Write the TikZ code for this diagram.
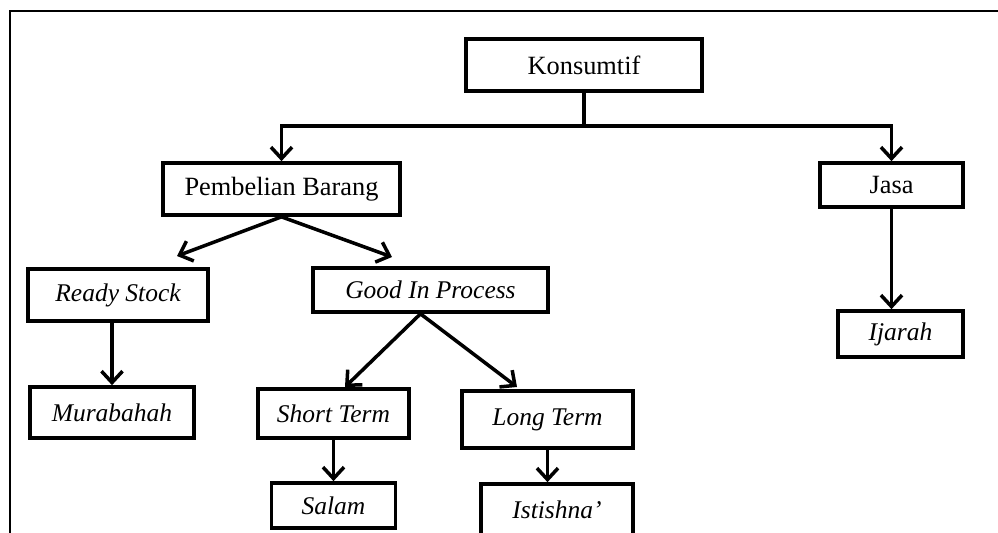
\documentclass[tikz,border=0pt]{standalone}
\usepackage{fontspec}
\setmainfont{Liberation Serif}
\usepackage{tikz}
\usetikzlibrary{arrows.meta}
\tikzstyle{plainbox} = [rectangle, draw, line width=2.1pt, minimum height=1.04cm,
  font=\fontsize{15}{17}\selectfont]
\tikzstyle{itbox} = [plainbox, font=\fontsize{14.5}{17}\selectfont\itshape]
\tikzstyle{line} = [draw, -{Straight Barb[length=6.5pt,width=12pt]}, line width=2pt]
\tikzstyle{joint} = [draw, line width=2pt]
\tikzstyle{frame} = [draw, line width=1pt]

\begin{document}
\begin{tikzpicture}[node distance=2cm]
    \clip (0,0) rectangle (19.96,-10.66);
    \path[frame] (0.2,-10.66) |- (19.96,-0.22);

    \node[plainbox, minimum width=4.72cm] (konsumtif) at (11.68,-1.30) {Konsumtif};
    \node[plainbox, minimum width=4.74cm, below of=konsumtif, node distance=2.48cm, xshift=-6.05cm] (pembelian) {Pembelian Barang};
    \node[plainbox, minimum width=2.86cm, minimum height=0.88cm, below of=konsumtif, node distance=2.40cm, xshift=6.15cm] (jasa) {Jasa};
    \node[itbox, minimum width=2.50cm, minimum height=0.92cm, below of=jasa, node distance=2.98cm, xshift=0.18cm] (ijarah) {Ijarah};

    \node[itbox, minimum width=3.60cm, below of=pembelian, node distance=2.12cm, xshift=-3.27cm] (ready) {Ready Stock};
    \node[itbox, minimum width=4.70cm, minimum height=0.88cm, below of=pembelian, node distance=2.02cm, xshift=2.98cm] (gip) {Good In Process};
    \node[itbox, minimum width=3.28cm, minimum height=1.02cm, below of=ready, node distance=2.35cm, xshift=-0.12cm] (murabahah) {Murabahah};

    \node[itbox, minimum width=3.02cm, minimum height=0.98cm, below of=gip, node distance=2.47cm, xshift=-1.94cm] (short) {Short Term};
    \node[itbox, minimum width=3.42cm, minimum height=1.14cm, below of=gip, node distance=2.59cm, xshift=2.34cm] (long) {Long Term};
    \node[itbox, minimum width=2.48cm, minimum height=0.90cm, below of=short, node distance=1.84cm] (salam) {Salam};
    \node[itbox, minimum width=3.04cm, below of=long, node distance=1.81cm, xshift=0.19cm] (istishna) {Istishna'};

    \coordinate (readytip) at (3.54,-5.12);
    \coordinate (giptip) at (7.84,-5.14);
    \coordinate (shorttip) at (6.90,-7.74);
    \coordinate (longtip) at (10.34,-7.74);

    \path[joint] (konsumtif.south) -- ++(0,-0.66) coordinate (split);
    \path[line] (split) -| (pembelian);
    \path[line] (split) -| (jasa);
    \path[line] (jasa) -- (jasa |- ijarah.north);
    \path[line] (pembelian.south) -- (readytip);
    \path[line] (pembelian.south) -- (giptip);
    \path[line] (murabahah |- ready.south) -- (murabahah);
    \path[line] ([xshift=-0.2cm]gip.south) -- (shorttip);
    \path[line] ([xshift=-0.2cm]gip.south) -- (longtip);
    \path[line] (salam |- short.south) -- (salam);
    \path[line] (long) -- (long |- istishna.north);
  \end{tikzpicture}
\end{document}
